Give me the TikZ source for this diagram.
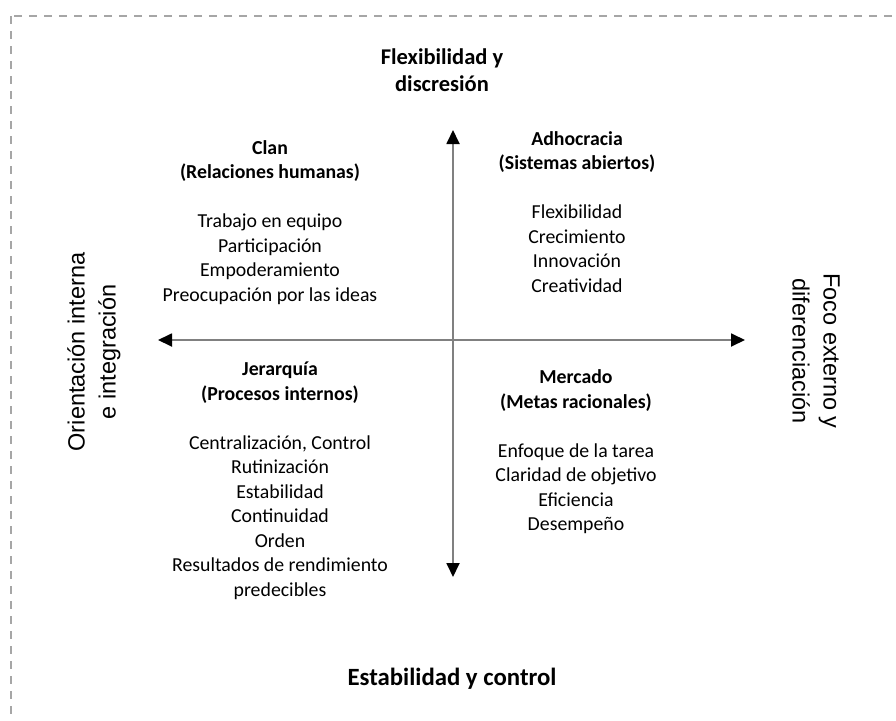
\documentclass[tikz,border=0pt]{standalone}
\usepackage{fontspec}
\setmainfont{Carlito}
\newfontfamily\arialf{Liberation Sans}
\usetikzlibrary{arrows.meta}
\tikzset{
  quad/.style={align=center, font=\fontsize{19.8}{24.5}\selectfont, inner sep=0pt},
  axislabel/.style={align=center, font=\bfseries\fontsize{22.5}{27}\selectfont, inner sep=0pt},
  sidelabel/.style={align=center, font=\arialf\fontsize{23.5}{31}\selectfont, inner sep=0pt},
  axis/.style={draw=gray, line width=1.8pt, -{Triangle[length=14pt,width=13pt,color=black]}},
}
\begin{document}
\begin{tikzpicture}[x=1pt,y=-1pt]
\useasboundingbox (0,0) rectangle (896,720);
\clip (0,0) rectangle (896,720);
\draw[draw=black!35, line width=1.5pt, dash pattern=on 8pt off 7pt] (11,16) rectangle (920,740);

\node[axislabel] (flex) at (442,70) {Flexibilidad y\\discresión};
\node[axislabel, font=\bfseries\fontsize{24.8}{27}\selectfont] (estab) at (452,679) {Estabilidad y control};
\node[sidelabel, rotate=90] (orient) at (94,352) {Orientación interna\\e integración};
\node[sidelabel, rotate=-90] (foco) at (816,351) {Foco externo y\\diferenciación};

\node[quad] (clan) at (270,222.5) {\textbf{Clan}\\\textbf{(Relaciones humanas)}\\[24.5pt]Trabajo en equipo\\Participación\\Empoderamiento\\Preocupación por las ideas};
\node[quad] (adho) at (577,212) {\textbf{Adhocracia}\\\textbf{(Sistemas abiertos)}\\[24.5pt]Flexibilidad\\Crecimiento\\Innovación\\Creatividad};
\node[quad] (jer) at (280,481) {\textbf{Jerarquía}\\\textbf{(Procesos internos)}\\[24.5pt]Centralización, Control\\Rutinización\\Estabilidad\\Continuidad\\Orden\\Resultados de rendimiento\\predecibles};
\node[quad] (merc) at (576,452) {\textbf{Mercado}\\\textbf{(Metas racionales)}\\[24.5pt]Enfoque de la tarea\\Claridad de objetivo\\Eficiencia\\Desempeño};

\coordinate (center) at (453,340);
\coordinate (top) at (453,130);
\coordinate (bottom) at (453,577);
\coordinate (left) at (158,340);
\coordinate (right) at (745,340);
\draw[axis] (center) -- (top);
\draw[axis] (center) -- (bottom);
\draw[axis] (center) -- (left);
\draw[axis] (center) -- (right);
\end{tikzpicture}
\end{document}
